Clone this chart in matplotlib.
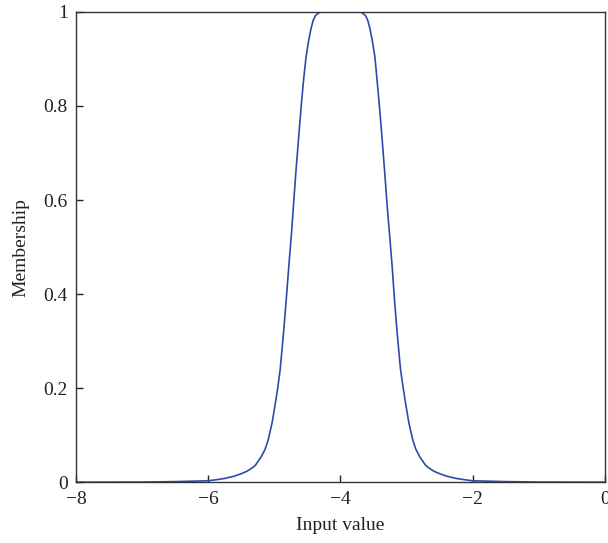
import numpy as np
import matplotlib
matplotlib.use("Agg")
import matplotlib.pyplot as plt

# values (left flank, top, right flank)
x_vals = [-8.0, -7.0, -6.5, -6.0, -5.865, -5.75, -5.614, -5.5, -5.411, -5.33,
          -5.286, -5.2, -5.14, -5.094, -5.033, -4.994, -4.949, -4.912, -4.862,
          -4.821, -4.782, -4.741, -4.716, -4.676, -4.64, -4.595, -4.555, -4.52,
          -4.48, -4.445, -4.413, -4.38, -4.34, -4.3,
          -4.0,
          -3.7, -3.66, -3.62, -3.587, -3.555, -3.52, -3.48, -3.45, -3.41,
          -3.365, -3.33, -3.289, -3.259, -3.218, -3.183, -3.142, -3.092, -3.051,
          -3.027, -3.006, -2.967, -2.906, -2.86, -2.8, -2.714, -2.67, -2.589,
          -2.5, -2.386, -2.25, -2.135, -2.0, -1.5, -1.0, 0.0]
membership = [0.0, 0.0003, 0.0012, 0.003, 0.0055, 0.008, 0.0125, 0.018, 0.0235, 0.031,
              0.0362, 0.0538, 0.07, 0.0894, 0.127, 0.16, 0.2, 0.24, 0.3164,
              0.3872, 0.4581, 0.5291, 0.579, 0.657, 0.72, 0.7985, 0.86, 0.905,
              0.94, 0.965, 0.982, 0.992, 0.997, 1.0,
              1.0,
              1.0, 0.997, 0.992, 0.982, 0.965, 0.94, 0.905, 0.86, 0.7985,
              0.72, 0.657, 0.579, 0.5291, 0.4581, 0.3872, 0.3164, 0.24, 0.2,
              0.178, 0.16, 0.127, 0.0894, 0.07, 0.0538, 0.0362, 0.031, 0.0235,
              0.018, 0.0125, 0.008, 0.0055, 0.003, 0.0012, 0.0003, 0.0]

x_ticks = [-8, -6, -4, -2, 0]
y_ticks = [0, 0.2, 0.4, 0.6, 0.8, 1]
y_labels = ["0", "0.2", "0.4", "0.6", "0.8", "1"]

plt.rcParams['font.family'] = ['Liberation Serif', 'DejaVu Serif']
plt.rcParams['font.size'] = 14

fig = plt.figure(figsize=(6.08, 5.43), dpi=100)
ax = fig.add_axes([0.125, 0.112, 0.870, 0.866])

ax.plot(x_vals, membership, color="#2b4aac", linewidth=1.2, solid_joinstyle="round")

ax.set_xlim(-8, 0)
ax.set_ylim(0, 1)
ax.set_xticks(x_ticks)
ax.set_yticks(y_ticks)
ax.set_yticklabels(y_labels)
ax.tick_params(direction="in", length=5, width=1, top=False, right=False,
               colors="#222222", labelcolor="#222222", pad=6)
for s in ax.spines.values():
	s.set_linewidth(1.0)
	s.set_color("#333333")

ax.set_xlabel("Input value", color="#222222", labelpad=7)
ax.set_ylabel("Membership", color="#222222", labelpad=10)

fig.savefig("out.png", dpi=100)
